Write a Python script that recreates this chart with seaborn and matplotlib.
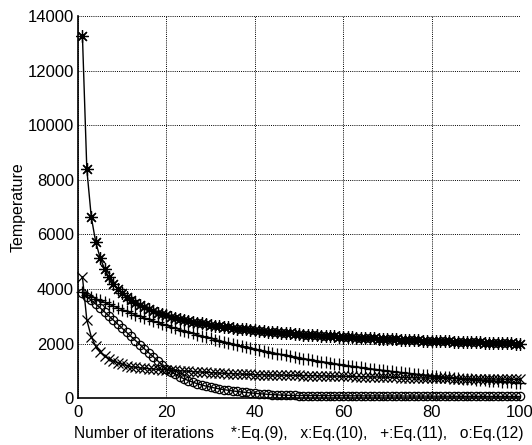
import numpy as np
import pandas as pd
import seaborn as sns
import matplotlib.pyplot as plt

# iteration index and temperature
iterations = np.arange(1, 101)

eq9 = [13300, 8390, 6650, 5730, 5150, 4740, 4430, 4200, 4000, 3850,
       3710, 3600, 3490, 3410, 3330, 3250, 3190, 3130, 3080, 3030,
       2980, 2940, 2900, 2860, 2830, 2800, 2770, 2740, 2710, 2690,
       2660, 2640, 2620, 2590, 2570, 2550, 2540, 2520, 2500, 2480,
       2470, 2450, 2440, 2420, 2410, 2400, 2380, 2370, 2360, 2350,
       2330, 2320, 2310, 2300, 2290, 2280, 2270, 2260, 2250, 2240,
       2230, 2230, 2220, 2210, 2200, 2190, 2190, 2180, 2170, 2160,
       2160, 2150, 2140, 2140, 2130, 2120, 2120, 2110, 2100, 2100,
       2090, 2090, 2080, 2080, 2070, 2060, 2060, 2050, 2050, 2040,
       2040, 2030, 2030, 2020, 2020, 2020, 2010, 2010, 2000, 2000]

eq10 = [4450, 2860, 2250, 1900, 1690, 1550, 1440, 1360, 1290, 1240,
        1190, 1150, 1125, 1105, 1090, 1075, 1065, 1050, 1040, 1030,
        1020, 1010, 1000, 990, 980, 970, 960, 950, 941, 932,
        923, 914, 906, 898, 890, 883, 876, 869, 863, 857,
        854, 851, 848, 845, 842, 839, 836, 833, 830, 827,
        824, 821, 818, 815, 812, 809, 806, 803, 800, 797,
        793, 790, 786, 783, 779, 776, 772, 769, 765, 762,
        758, 755, 751, 748, 744, 741, 737, 734, 730, 727,
        724, 721, 719, 716, 714, 711, 709, 706, 704, 701,
        699, 697, 695, 693, 691, 689, 687, 685, 683, 681]

eq11 = [3873, 3798, 3723, 3651, 3580, 3510, 3441, 3374, 3309, 3244,
        3181, 3119, 3058, 2998, 2940, 2883, 2826, 2771, 2717, 2664,
        2612, 2561, 2511, 2462, 2414, 2367, 2321, 2276, 2231, 2188,
        2145, 2103, 2062, 2022, 1983, 1944, 1906, 1869, 1833, 1797,
        1762, 1728, 1694, 1661, 1628, 1597, 1566, 1535, 1505, 1476,
        1447, 1419, 1391, 1364, 1337, 1311, 1286, 1261, 1236, 1212,
        1188, 1165, 1142, 1120, 1098, 1077, 1056, 1035, 1015, 995,
        976, 957, 938, 920, 902, 884, 867, 850, 834, 817,
        801, 786, 771, 756, 741, 726, 712, 698, 685, 671,
        658, 645, 633, 621, 608, 597, 585, 574, 562, 551]

eq12 = [3840, 3720, 3590, 3450, 3310, 3160, 3010, 2860, 2710, 2560,
        2410, 2260, 2110, 1960, 1810, 1660, 1520, 1370, 1220, 1080,
        970, 870, 780, 705, 640, 580, 525, 475, 435, 400,
        365, 335, 308, 283, 260, 240, 222, 205, 188, 172,
        158, 146, 135, 125, 116, 108, 102, 97, 93, 90,
        89, 88, 87, 87, 86, 85, 84, 84, 83, 82,
        81, 81, 80, 79, 78, 78, 77, 76, 75, 75,
        74, 73, 72, 72, 71, 70, 69, 69, 68, 67,
        67, 66, 65, 65, 64, 63, 63, 62, 62, 61,
        61, 60, 60, 59, 59, 58, 58, 57, 57, 56]

xticks = [0, 20, 40, 60, 80, 100]
yticks = [0, 2000, 4000, 6000, 8000, 10000, 12000, 14000]

sns.set_style("white")
plt.rcParams['font.family'] = ['Liberation Sans', 'DejaVu Sans']

fig = plt.figure(figsize=(5.32, 4.45), dpi=100)
ax = fig.add_axes([0.1466, 0.1056, 0.8308, 0.8574])

# matlab style markers: asterisk, x, plus, open circle
styles = [((8, 2, 0), 9), ('x', 7), ('+', 8), ('o', 6)]
for vals, (mk, ms) in zip([eq9, eq10, eq11, eq12], styles):
    sns.lineplot(x=iterations, y=vals, ax=ax, color='k', lw=1.0,
                 marker=mk, ms=ms, mec='k', mfc='none', mew=0.9,
                 clip_on=False, legend=False, errorbar=None)

ax.set_xlim(0, 100)
ax.set_ylim(0, 14000)
ax.set_xticks(xticks)
ax.set_yticks(yticks)
ax.grid(True, color='k', linestyle=(0, (1, 1.2)), linewidth=0.7)
ax.tick_params(direction='in', length=3, labelsize=12, colors='k')
ax.tick_params(axis='x', pad=5)
ax.tick_params(axis='y', pad=3)
for s in ['top', 'right']:
    ax.spines[s].set_visible(False)
for s in ['left', 'bottom']:
    ax.spines[s].set_color('k')
    ax.spines[s].set_linewidth(1.2)

ax.set_xlabel('Number of iterations    *:Eq.(9),   x:Eq.(10),   +:Eq.(11),   o:Eq.(12)',
              fontsize=11.2, color='k', labelpad=4)
ax.set_ylabel('Temperature', fontsize=11.5, color='k', labelpad=1)

fig.savefig('out.png', dpi=100)
